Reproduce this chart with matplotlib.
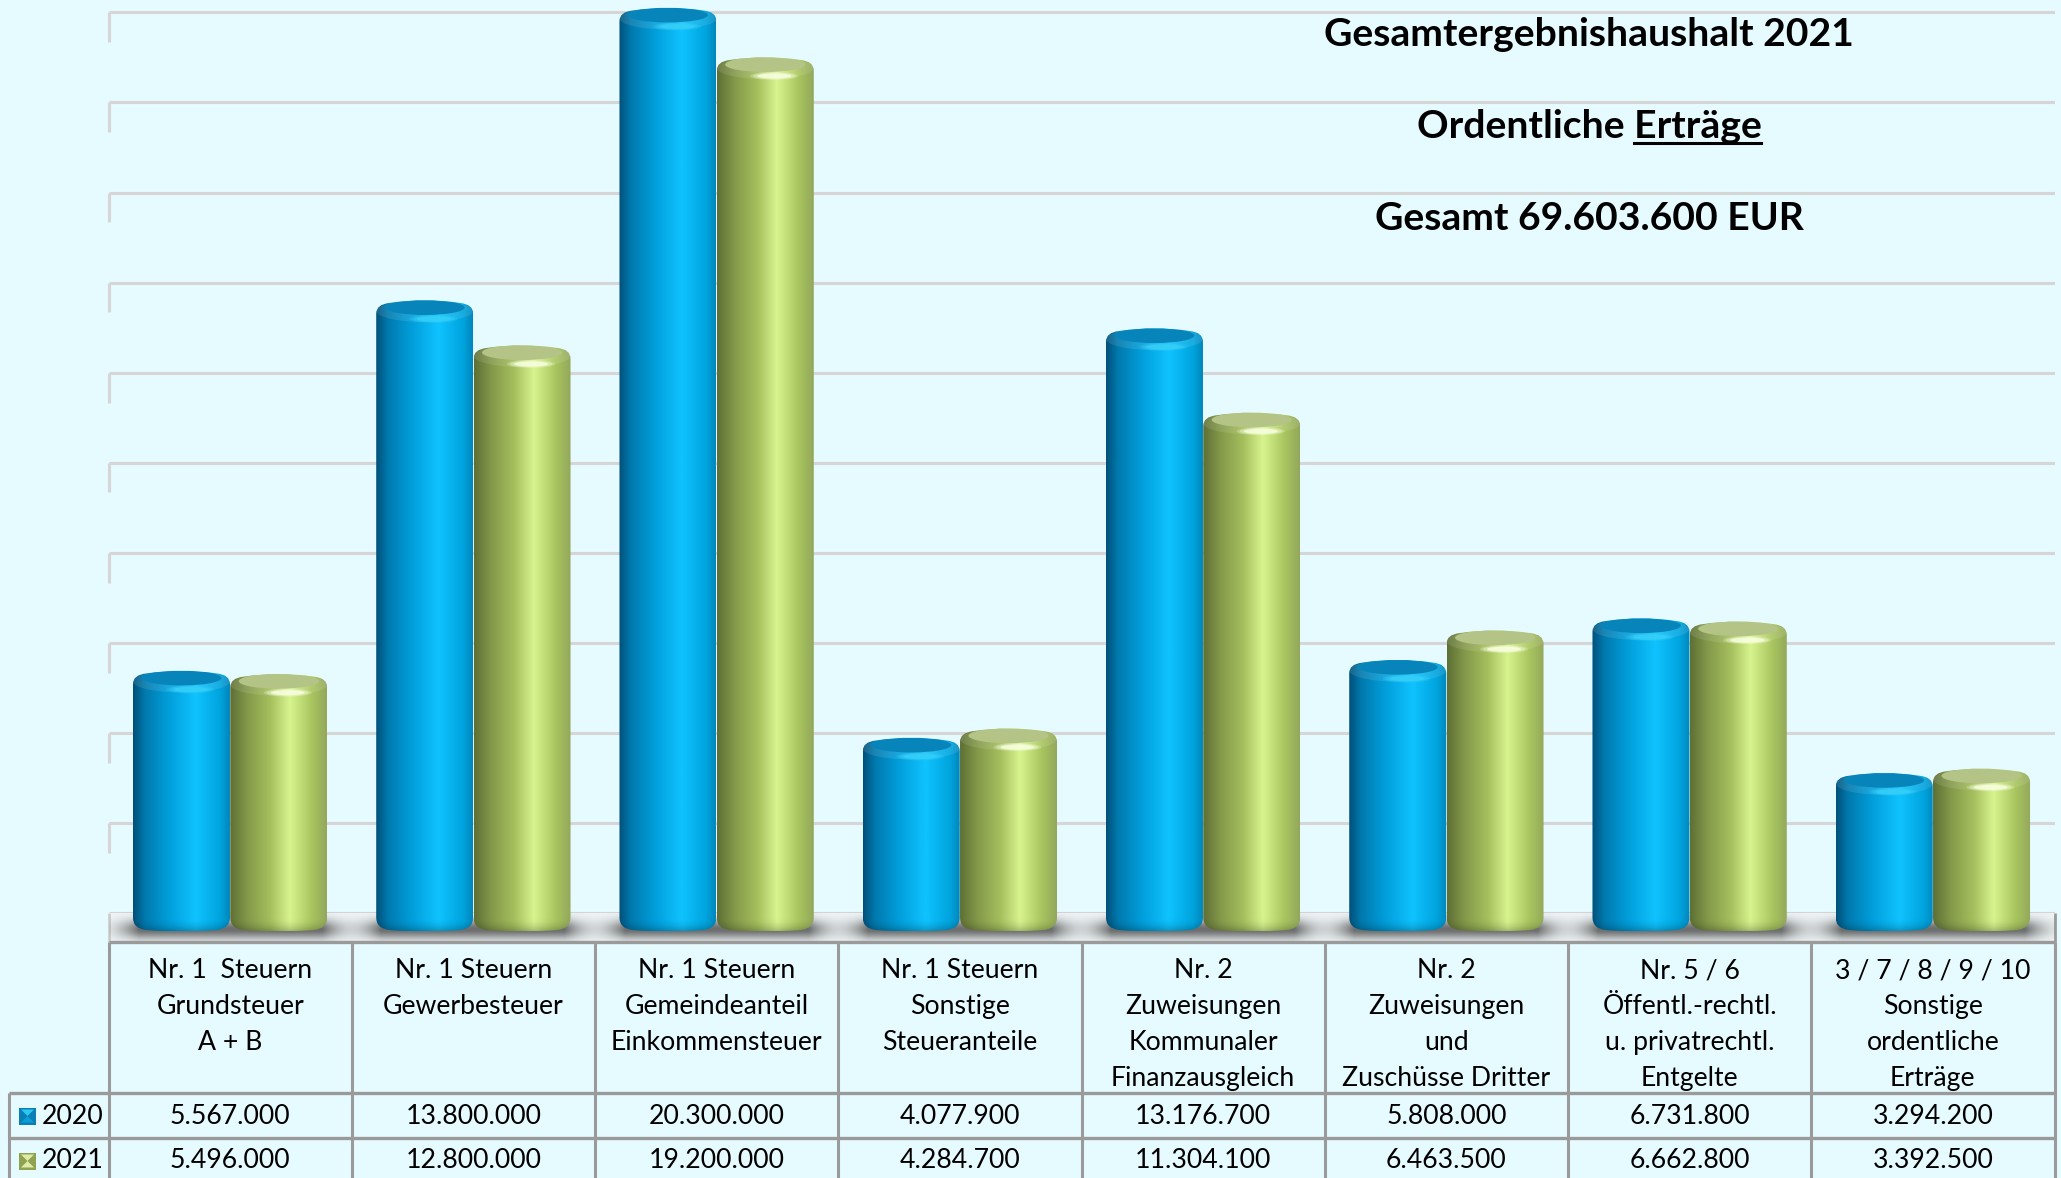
import matplotlib
matplotlib.use('Agg')
import matplotlib.pyplot as plt
import numpy as np
from matplotlib.colors import LinearSegmentedColormap
from matplotlib.lines import Line2D
from matplotlib.patches import Ellipse, PathPatch, Polygon
from matplotlib.path import Path
from matplotlib.transforms import IdentityTransform

# Daten
kategorien = [
    ['Nr. 1  Steuern', 'Grundsteuer', 'A + B'],
    ['Nr. 1 Steuern', 'Gewerbesteuer'],
    ['Nr. 1 Steuern', 'Gemeindeanteil', 'Einkommensteuer'],
    ['Nr. 1 Steuern', 'Sonstige', 'Steueranteile'],
    ['Nr. 2', 'Zuweisungen', 'Kommunaler', 'Finanzausgleich'],
    ['Nr. 2', 'Zuweisungen', 'und', 'Zuschüsse Dritter'],
    ['Nr. 5 / 6', 'Öffentl.-rechtl.', 'u. privatrechtl.', 'Entgelte'],
    ['3 / 7 / 8 / 9 / 10', 'Sonstige', 'ordentliche', 'Erträge'],
]
werte_2020 = [5567000, 13800000, 20300000, 4077900, 13176700, 5808000, 6731800, 3294200]
werte_2021 = [5496000, 12800000, 19200000, 4284700, 11304100, 6463500, 6662800, 3392500]
jahre = ['2020', '2021']
gitter_schritt = 2000000
gitter_anzahl = 11

# Layout in Pixeln
B, H = 2061, 1178
LINKS, RECHTS = 108.5, 2054.5
BODEN_Y = 931.5       # Unterkante der Zylinder = Wert 0
PX_PRO_MIO = 45.0
BODEN_HINTEN, BODEN_VORNE = 912.5, 942
ZEILE_1, ZEILE_2 = 1093, 1138
SCHRIFT = 'Lato'
HINTERGRUND = '#e6fbff'
LINIE = '#9a9a9a'

fig = plt.figure(figsize=(B / 100, H / 100), dpi=100, facecolor=HINTERGRUND)

# Diagrammachse: x in Kategorien, y in EUR
spalte = (RECHTS - LINKS) / len(kategorien)
dx = 1 / spalte
dy = 1e6 / PX_PRO_MIO
ax = fig.add_axes([LINKS / B, 1 - BODEN_VORNE / H, (RECHTS - LINKS) / B, BODEN_VORNE / H])
ax.axis('off')

blau = LinearSegmentedColormap.from_list('blau', [
    (0, '#00517a'), (0.12, '#0079ad'), (0.35, '#009cd8'), (0.65, '#0fc3ff'), (0.9, '#00a4de'), (1, '#0087bd')])
gruen = LinearSegmentedColormap.from_list('gruen', [
    (0, '#5f7035'), (0.18, '#84994a'), (0.42, '#a6c05e'), (0.62, '#d8f48f'), (0.85, '#a8c45e'), (1, '#93a85c')])


def zylinder(xm, wert, cmap, deckel, glanz):
    breite = 97 * dx
    x0, x1 = xm - breite / 2, xm + breite / 2
    oben = wert + 10.5 * dy
    ey, ex = 14 * dy, 13 * dx
    umriss = Path([
        (x0, ey), (x0, 3 * dy), (x0 + ex, 1.5 * dy),
        (xm, -1.5 * dy), (x1 - ex, 1.5 * dy), (x1, 3 * dy),
        (x1, ey), (x1, wert - 3 * dy), (x1, wert + 6 * dy), (x1 - ex, wert + 7.5 * dy),
        (xm, wert + 13 * dy), (x0 + ex, wert + 7.5 * dy), (x0, wert + 6 * dy), (x0, wert - 3 * dy), (x0, ey),
    ], [Path.MOVETO, Path.CURVE3, Path.CURVE3, Path.CURVE3, Path.CURVE3, Path.CURVE3, Path.CURVE3,
        Path.LINETO, Path.CURVE3, Path.CURVE3, Path.CURVE3, Path.CURVE3, Path.CURVE3, Path.CURVE3, Path.LINETO])
    umriss_patch = PathPatch(umriss, transform=ax.transData, fc='none', ec='none')

    # Koerper: Farbverlauf quer, unten abgedunkelt
    zeilen = max(int(oben / dy), 2)
    quer = cmap(np.linspace(0, 1, 200))[:, :3]
    abstand_unten = zeilen - 1 - np.arange(zeilen)
    faktor = 1 - 0.22 * np.clip(1 - abstand_unten / 13, 0, 1) ** 2
    bild = quer[None, :, :] * faktor[:, None, None]
    im = ax.imshow(bild, extent=(x0, x1, 0, oben), aspect='auto', zorder=5, interpolation='bilinear')
    im.set_clip_path(umriss_patch)

    # Wulst am oberen Rand, Deckel und weiches Glanzlicht
    wulst = Ellipse((xm, wert - 0.5 * dy), breite, 22 * dy, fc='white', ec='none', alpha=0.10, zorder=6)
    ax.add_patch(wulst)
    wulst.set_clip_path(umriss_patch)
    deckel_el = Ellipse((xm, wert + 3 * dy), 80 * dx, 15 * dy, fc=deckel, ec='none', zorder=6)
    ax.add_patch(deckel_el)
    deckel_el.set_clip_path(umriss_patch)
    for w, h, a in ((48, 8, 0.25), (42, 6.5, 0.35), (34, 5, 0.8)):
        ax.add_patch(Ellipse((xm + 9 * dx, wert - 8.5 * dy), w * dx, h * dy, fc=glanz, ec='none', alpha=a, zorder=7))


# Gitter und Wandstuecke, liegen um den Versatz der Rueckwand hoeher als die Werte
versatz = (BODEN_Y - BODEN_HINTEN) * dy
x_links, x_rechts = -0.5, len(kategorien) - 0.5
for k in range(gitter_anzahl):
    y = k * gitter_schritt + versatz
    ax.hlines(y, x_links, x_rechts, color='#d6d6d6', lw=2.2, zorder=1)
    if k > 0:
        ax.vlines(x_links, y - 30 * dy, y, color='#d6d6d6', lw=2.2, zorder=1, clip_on=False)

# Boden
y_vorne = -(BODEN_VORNE - BODEN_Y) * dy
ax.fill_between([x_links, x_rechts], y_vorne, versatz, color='#f0f6f8', zorder=2, lw=0)
ax.vlines(x_links, y_vorne, versatz, color='#cfcfcf', lw=2, zorder=2, clip_on=False)
ax.vlines(x_rechts, y_vorne, versatz, color=LINIE, lw=2, zorder=2, clip_on=False)

# Schatten auf dem Boden um jede Gruppe
for i in range(len(kategorien)):
    rand = 48 * dx
    halb = 92 * dx
    xs = np.linspace(i - halb - rand, i + halb + rand, 300)
    ys = np.linspace(versatz, y_vorne, 30)
    schatten_x = np.clip(1 - (np.abs(xs - i) - halb) / rand, 0, 1) ** 2
    schatten_y = np.exp(-((ys - 2 * dy) / (10 * dy)) ** 2)
    alpha = 0.78 * schatten_y[:, None] * schatten_x[None, :]
    schatten = np.zeros((30, 300, 4))
    schatten[..., :3] = 0.28
    schatten[..., 3] = alpha
    ax.imshow(schatten, extent=(xs[0], xs[-1], y_vorne, versatz), aspect='auto', zorder=3, interpolation='bilinear')

for i in range(len(kategorien)):
    zylinder(i + 0.2, werte_2021[i], gruen, '#b4c486', '#f8ffe0')
    zylinder(i - 0.2, werte_2020[i], blau, '#0785bb', '#35d0f8')

ax.set_xlim(x_links, x_rechts)
ax.set_ylim(y_vorne, BODEN_Y * dy)

# Tabelle und Titel in Pixelkoordinaten
tab = fig.add_axes([0, 0, 1, 1], facecolor='none')
tab.set_xlim(0, B)
tab.set_ylim(H, 0)
tab.axis('off')

x_spalten = [LINKS + i * spalte for i in range(len(kategorien) + 1)]
tab.hlines(BODEN_VORNE, LINKS, RECHTS, color=LINIE, lw=2.4)
tab.hlines([ZEILE_1, ZEILE_2], 9, RECHTS, color=LINIE, lw=2.4)
tab.vlines(x_spalten, BODEN_VORNE, H, color=LINIE, lw=2.2)
tab.vlines(9, ZEILE_1, H, color=LINIE, lw=2.2)

for i, zeilen in enumerate(kategorien):
    xm = (x_spalten[i] + x_spalten[i + 1]) / 2
    for j, zeile in enumerate(zeilen):
        tab.text(xm, 971 + j * 35.8, zeile, ha='center', va='center', fontsize=19.2, family=SCHRIFT, color='black')
    for y, werte in ((1116, werte_2020), (1161, werte_2021)):
        tab.text(xm, y, f'{werte[i]:,}'.replace(',', '.'), ha='center', va='center', fontsize=19.2, family=SCHRIFT, color='black')

# Legendenzeichen: Rand dunkler, oben und unten helle Dreiecke
schluessel = [('#0a7fb5', '#2cc6f2', '#0a9ed6'), ('#8ea24f', '#dfeba8', '#dfeba8')]
for jahr, y, (rand_farbe, hell, unten) in zip(jahre, (1116, 1161), schluessel):
    x0, x1, y0, y1 = 19, 36, y - 8.5, y + 8.5
    xm = (x0 + x1) / 2
    tab.add_patch(Polygon([(x0, y0), (x1, y0), (x1, y1), (x0, y1)], fc=rand_farbe, ec='none'))
    tab.add_patch(Polygon([(x0 + 2, y0 + 2), (x1 - 2, y0 + 2), (xm, y)], fc=hell, ec='none'))
    tab.add_patch(Polygon([(x0 + 2, y1 - 2), (x1 - 2, y1 - 2), (xm, y)], fc=unten, ec='none'))
    tab.text(42, y, jahr, ha='left', va='center', fontsize=19.2, family=SCHRIFT, color='black')

# Titel
TITEL_X = 1589
titel_stil = dict(ha='center', va='center', fontsize=28.2, fontweight='bold', family=SCHRIFT, color='black')
tab.text(TITEL_X, 35, 'Gesamtergebnishaushalt 2021', **titel_stil)
zeile_u = tab.text(TITEL_X, 126, 'Ordentliche Erträge', **titel_stil)
tab.text(TITEL_X, 218, 'Gesamt 69.603.600 EUR', **titel_stil)

# Unterstreichung von "Erträge" aus der gemessenen Textbreite
renderer = fig.canvas.get_renderer()
kasten = zeile_u.get_window_extent(renderer)
probe = tab.text(0, 0, 'Erträge', **titel_stil)
breite_wort = probe.get_window_extent(renderer).width
probe.remove()
y_linie = H - 143
fig.add_artist(Line2D([kasten.x1 - breite_wort, kasten.x1], [y_linie, y_linie], color='black', lw=2.2,
                      transform=IdentityTransform()))

fig.savefig('out.png', dpi=100, facecolor=HINTERGRUND)
